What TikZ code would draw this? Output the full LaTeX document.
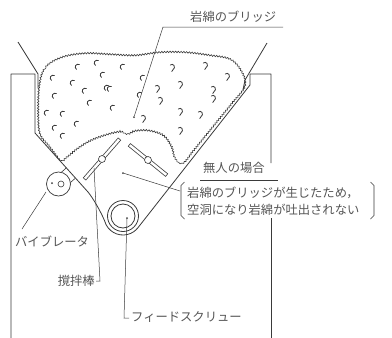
\documentclass[tikz,border=0pt]{standalone}
\usepackage{fontspec}
\newfontfamily\jp{Noto Sans CJK JP}
\usetikzlibrary{decorations.pathmorphing,calc}
\definecolor{ink}{HTML}{3A3A3A}
\definecolor{txt}{HTML}{555555}

\begin{document}
\begin{tikzpicture}[x=1pt,y=-1pt,
  wall/.style={draw=ink, line width=0.8pt, line join=round},
  lead/.style={draw=ink, line width=0.5pt},
  fib/.style={draw=ink, line width=0.8pt, line cap=round},
  lbl/.style={text=txt, font=\jp\fontsize{12.3}{14}\selectfont, inner sep=0pt},
  rodbar/.style={draw=ink, fill=white, line width=0.6pt, minimum width=#1, minimum height=3.4pt, inner sep=0pt},
  hub/.style={circle, draw=ink, fill=white, line width=0.6pt, minimum size=7pt, inner sep=0pt},
  spot/.style={circle, fill=ink, minimum size=2pt, inner sep=0pt},
  fluff/.style={draw=ink, line width=0.6pt, decorate,
    decoration={bumps, segment length=5.5pt, amplitude=1.5pt}}
]
\useasboundingbox (0,0) rectangle (392,338);
\fill[white] (0,0) rectangle (392,338);

% ---- rock wool mass forming a bridge over the agitators ----
\path[fluff] plot[smooth cycle, tension=0.6] coordinates {
  (40,86) (46,68) (62,58) (85,54) (110,55) (135,56) (160,53) (185,53)
  (210,56) (230,60) (241,72) (244,86) (232,102) (219,118) (206,134)
  (193,150) (183,162) (176,158) (172,146) (164,135) (150,130) (136,130)
  (128,133) (120,131) (106,134) (90,140) (77,148) (67,156) (61,159)
  (50,146) (41,134) (39,116)};

% fibre curls, left half open to the right, right half open to the left
\foreach \x/\y in {78/67, 97/63, 123/67, 53/78, 73/83, 103/75, 107/88,
  85/91, 110/89, 55/96, 90/103, 113/108, 47/113, 63/114, 77/124,
  55/128, 63/136, 140/95, 143/78}
  \draw[fib] (\x,\y) ++(-60:2.8) arc[start angle=-60, end angle=-240, radius=2.8];
\foreach \x/\y in {172/67, 205/65, 227/76, 157/88, 180/84, 213/89,
  213/98, 143/118, 180/111, 200/114, 180/130, 160/100}
  \draw[fib] (\x,\y) ++(-130:2.6) arc[start angle=-130, end angle=60, radius=2.6] -- ++(-1.5,2.2);

% ---- casing and hopper ----
\coordinate (screwC) at (123,216);
\draw[wall] (11,338) -- (11,74) -- (35,74) -- (35,133) -- (88,192)
  .. controls (93,198) and (101,212) .. ($(screwC)+(165:19)$)
  arc[start angle=165, end angle=38.1, radius=19]
  -- (250,85) -- (250,74) -- (271,74) -- (271,163);
\draw[wall] (271,218) -- (271,338);
% flared inlet edges
\draw[wall] (18,42) -- (38,74) -- (38,88);
\draw[wall] (267,43) -- (245,80) -- (243,90);

% ---- feed screw ----
\draw[ink, line width=0.8pt] (screwC) circle[radius=15.5];
\draw[ink, line width=0.8pt] (screwC) circle[radius=12];
\node[spot] (screwdot) at (127,218) {};

% ---- agitator rods ----
\node[rodbar=53pt, rotate=48.8] (rodL) at (102,159) {};
\node[hub] (hubL) at (102,159) {};
\node[rodbar=48pt, rotate=-39] (rodR) at (148,160) {};
\node[hub] (hubR) at (148,160) {};

% ---- vibrator on the hopper wall ----
\coordinate (vibC) at (58.5,184);
\draw[ink, line width=0.7pt] (vibC) circle[radius=12];
\draw[ink, line width=0.6pt] (61.3,172.3) -- (66.1,168.1);
\draw[ink, line width=0.6pt] (70.4,182.6) -- (75.2,178.3);
\node[hub, minimum size=6pt] (vibhub) at (61,184) {};
\node[spot] (vibdot) at (52,183) {};

% ---- labels ----
\node[spot] (bridgedot) at (134,117) {};
\node[lbl, anchor=base west] (bridge) at (190,21.5) {岩綿のブリッジ};
\coordinate (bridgeL) at (163,27);
\coordinate (bridgeR) at (283,27);
\draw[lead] (bridgedot) -- (bridgeL) -- (bridgeR);

\node[lbl, anchor=base west] (case) at (203,172.5) {無人の場合};
\coordinate (caseL) at (200,180);
\coordinate (caseR) at (278,180);
\draw[lead] (caseL) -- (caseR);

\node[lbl, anchor=base west] (noteA) at (187,197.5) {岩綿のブリッジが生じたため，};
\node[lbl, anchor=base west] (noteB) at (187,214.5) {空洞になり岩綿が吐出されない};
\draw[lead, line width=0.7pt] (184.5,182) -- (181,185.5) -- (181,215.5) -- (184.5,219);
\draw[lead, line width=0.7pt] (370.5,182) -- (374,185.5) -- (374,215.5) -- (370.5,219);
\node[spot] (voiddot) at (123,173) {};
\coordinate (noteTip) at (180,191);
\draw[lead] (voiddot) -- (noteTip);

\node[lbl, anchor=base west] (vib) at (15,246.5) {バイブレータ};
\coordinate (vibTip) at (46,192);
\coordinate (vibEnd) at (22,229);
\draw[lead] (vibTip) -- (vibEnd);

\node[lbl, anchor=base east] (agit) at (95,285.5) {撹拌棒};
\coordinate (agitTip) at (94,168);
\coordinate (agitBend) at (100,281);
\coordinate (agitEnd) at (96,281);
\draw[lead] (agitTip) -- (agitBend) -- (agitEnd);

\node[lbl, anchor=base west] (feed) at (131,321.5) {フィードスクリュー};
\coordinate (feedBend) at (124,318);
\coordinate (feedEnd) at (129,318);
\draw[lead] (screwdot) -- (feedBend) -- (feedEnd);
\end{tikzpicture}
\end{document}
